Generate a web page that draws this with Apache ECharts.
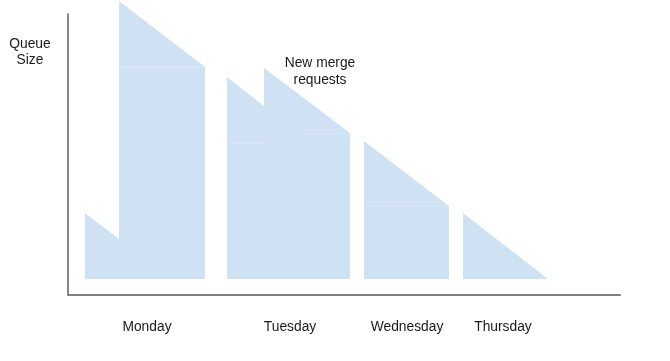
<!DOCTYPE html>
<html>
<head>
<meta charset="utf-8">
<script src="https://cdn.jsdelivr.net/npm/echarts@6/dist/echarts.min.js"></script>
<style>html,body{margin:0;padding:0;background:#fff}#c{width:670px;height:361px}</style>
</head>
<body>
<div id="c"></div>
<script>
// Categories / labels
const days = ['Monday', 'Tuesday', 'Wednesday', 'Thursday'];
const dayLabelPos = [79, 222, 339, 435];
// Queue-size outlines per day: [time, queue size]
const mondayShape = [[17, 82], [51, 56], [51, 294], [137, 228], [137, 16], [17, 16]];
const tuesdayShape = [[159, 218], [196, 189], [196, 227], [282, 162], [282, 16], [159, 16]];
const wednesdayShape = [[296, 154], [381, 89], [381, 16], [296, 16]];
const thursdayShape = [[395, 82], [480, 16], [395, 16]];
const shapes = [mondayShape, tuesdayShape, wednesdayShape, thursdayShape];
// Seams between stacked pieces
const seams = [[[51, 228], [137, 228]], [[159, 152], [196, 152]], [[232, 161], [282, 161]], [[296, 89], [381, 89]]];

const font = 'Arial, "Liberation Sans", sans-serif';
const chart = echarts.init(document.getElementById('c'));
chart.setOption({
  animation: false,
  grid: { left: 68, right: 50, top: 14, bottom: 66 },
  xAxis: {
    type: 'value', min: 0, max: 552,
    axisLine: { show: true, lineStyle: { color: '#808080', width: 2 } },
    axisTick: { show: false },
    splitLine: { show: false },
    axisLabel: {
      customValues: dayLabelPos,
      formatter: v => days[dayLabelPos.indexOf(v)] || '',
      margin: 25, fontSize: 13.8, color: '#1a1a1a', fontFamily: font
    }
  },
  yAxis: {
    type: 'value', min: 0, max: 281,
    axisLine: { show: true, lineStyle: { color: '#606060', width: 1.5 } },
    axisTick: { show: false },
    splitLine: { show: false },
    axisLabel: { show: false }
  },
  graphic: [
    { type: 'text', x: 30, y: 52, style: { text: 'Queue\nSize', font: '13.8px ' + font, fill: '#1a1a1a', align: 'center', verticalAlign: 'middle', lineHeight: 16 } },
    { type: 'text', x: 320, y: 72, style: { text: 'New merge\nrequests', font: '13.8px ' + font, fill: '#1a1a1a', align: 'center', verticalAlign: 'middle', lineHeight: 17 } }
  ],
  series: [
    {
      type: 'custom', clip: false,
      data: shapes.map((s, i) => [i]),
      renderItem: (params, api) => ({
        type: 'polygon',
        shape: { points: shapes[params.dataIndex].map(p => api.coord(p)) },
        style: { fill: '#cfe2f3' }
      })
    },
    {
      type: 'custom', clip: false,
      data: seams.map((s, i) => [i]),
      renderItem: (params, api) => {
        const s = seams[params.dataIndex];
        const a = api.coord(s[0]), b = api.coord(s[1]);
        return { type: 'line', shape: { x1: a[0], y1: a[1], x2: b[0], y2: b[1] }, style: { stroke: '#dbe9f6', lineWidth: 1 } };
      }
    }
  ]
});
</script>
</body>
</html>
